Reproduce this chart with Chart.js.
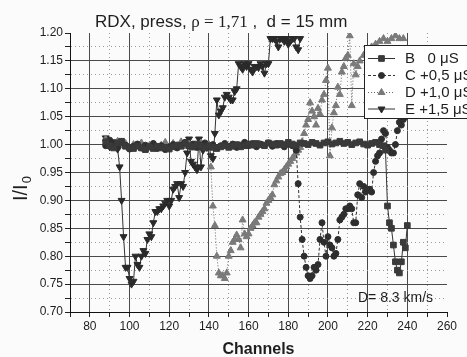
<!DOCTYPE html>
<html><head><meta charset="utf-8">
<script src="https://cdn.jsdelivr.net/npm/chart.js@4.4.0/dist/chart.umd.min.js"></script>
<style>html,body{margin:0;padding:0;background:#fbfbfb;}#wrap{width:467px;height:357px;}</style>
</head><body><div id="wrap"><canvas id="c" width="467" height="357"></canvas></div>
<script>
// ---- text ----
const titleParts = ["RDX, press, ", "\u03C1 = 1,71", " ,  d = 15 mm"];
const xTitle = "Channels";
const yTitle = "I/I";
const yTitleSub = "0";
const noteText = "D= 8.3 km/s";
const seriesNames = ["B   0 \u03BCS", "C +0,5 \u03BCS", "D +1,0 \u03BCS", "E +1,5 \u03BCS"];
const xLabelTicks = [80,100,120,140,160,180,200,220,240,260];
const yLabelTicks = [0.70,0.75,0.80,0.85,0.90,0.95,1.00,1.05,1.10,1.15,1.20];

// ---- series B (0 uS) ----
const chB = [88,90,92,94,96,98,100,102,104,106,108,110,112,114,116,118,120,122,124,126,128,130,132,134,136,138,140,142,144,146,148,150,152,154,156,158,160,162,164,166,168,170,172,174,176,178,180,182,184,186,188,190,192,194,196,198,200,202,204,206,208,210,212,214,216,218,220,222,224,226,228,229,230,231,232,233,234,235,236,237,238,239,240];
const valB = [1.005,0.998,0.994,1.003,1.006,0.997,
0.995,0.993,0.997,0.994,0.991,0.996,
0.993,0.997,0.994,0.995,0.992,0.996,
0.999,0.997,1.002,0.998,0.996,1.001,
0.997,0.994,0.998,0.995,0.993,0.996,
0.998,0.995,0.997,1.000,0.996,0.998,
1.001,0.999,1.002,1.000,0.998,1.003,
1.001,0.999,1.002,1.000,1.004,1.001,
0.999,1.003,1.002,1.000,1.004,1.002,
0.999,1.003,1.005,1.001,1.003,1.006,
1.002,1.004,1.000,1.003,1.005,1.001,
0.999,1.002,1.004,1.000,0.998,
0.99,0.89,0.86,0.85,0.82,0.79,0.775,0.77,0.79,0.825,0.815,0.855];

// ---- series C (+0,5 uS) ----
const chC = [88,90,92,94,96,98,100,102,104,106,108,110,112,114,116,118,120,122,124,126,128,130,132,134,136,138,140,142,144,146,148,150,152,154,156,158,160,162,164,166,168,170,172,174,176,178,180,182,
184,185,186,187,188,189,190,191,192,193,194,195,196,197,198,199,200,201,202,203,204,205,206,207,208,209,210,211,212,213,214,215,216,217,218,219,220,221,222,223,224,225,226,227,228,229,230,231,232,233,234,235,236,237,238,239];
const valC = [0.998,1.008,1.002,0.995,1.004,0.999,
0.992,0.997,1.001,0.994,0.999,0.996,
1.002,0.993,0.998,0.991,0.996,1.000,
0.994,0.999,1.004,0.997,1.001,0.995,
0.999,1.003,0.996,1.000,0.994,0.998,
1.002,0.997,1.001,0.995,0.999,1.004,
0.998,1.002,0.996,1.001,0.999,1.003,
0.997,1.002,1.000,0.996,1.001,0.998,
0.99,0.93,0.87,0.83,0.80,0.78,0.765,0.76,0.765,0.78,0.775,0.785,0.83,0.86,0.825,0.80,0.835,0.82,0.815,0.80,
0.805,0.83,0.865,0.87,0.875,0.885,0.885,0.89,0.885,0.86,0.86,0.91,0.93,0.905,0.925,0.915,0.92,0.92,0.915,0.95,
0.97,0.98,0.985,1.01,1.025,1.02,0.995,0.99,0.985,0.985,1.0,1.025,1.04,1.035,1.045,1.05];

// ---- series D (+1,0 uS) ----
const chD = [88,90,92,94,96,98,100,102,104,106,108,110,112,114,116,118,120,122,124,126,128,130,132,134,136,138,140,
141,142,143,144,145,146,147,148,149,150,151,152,153,154,155,156,157,158,159,160,161,162,163,164,165,166,167,168,169,170,
171,172,173,174,175,176,177,178,179,180,181,182,183,184,185,186,187,188,189,190,191,192,193,194,195,196,197,198,199,200,
201,202,203,204,205,206,207,208,209,210,211,212,213,214,215,
216,218,220,222,224,226,228,230,232,234,236,238];
const valD = [1.010,1.004,0.996,1.006,0.998,1.002,
0.994,1.000,0.997,1.003,0.992,0.998,
1.001,0.995,0.999,1.004,0.996,1.002,
0.998,1.005,0.997,1.001,0.994,0.999,
1.003,0.997,1.000,
0.96,0.89,0.855,0.80,0.77,0.765,0.765,0.76,0.77,0.80,0.81,0.825,0.83,0.838,0.83,0.815,0.865,0.84,0.835,0.84,
0.85,0.855,0.86,0.86,0.87,0.875,0.88,0.885,0.895,0.90,
0.905,0.91,0.928,0.935,0.942,0.948,0.95,0.955,0.96,0.965,0.97,0.975,0.98,0.985,0.99,0.995,1.005,1.02,1.035,1.045,
1.075,1.06,1.05,1.035,1.065,1.055,1.08,1.09,1.115,1.137,
0.98,1.03,1.057,1.07,1.103,1.09,1.13,1.14,1.155,1.16,1.195,1.07,1.145,1.125,1.14,
1.15,1.16,1.17,1.175,1.18,1.185,1.19,1.185,1.19,1.195,1.19,1.19];

// ---- series E (+1,5 uS) ----
const chE = [88,90,92,94,95,96,97,98,99,100,101,102,103,104,105,106,107,108,109,110,111,112,113,114,115,116,117,118,119,120,
121,122,123,124,125,126,127,128,129,130,131,132,133,134,135,136,137,138,139,140,141,142,143,144,145,146,147,148,149,150,
151,152,153,154,155,156,157,158,159,160,161,162,163,164,165,166,167,168,169,170,171,172,173,174,175,176,177,178,179,180,
181,182,183,184,185,186];
const valE = [1.012,0.996,1.005,0.992,
0.96,0.90,0.835,0.78,0.78,0.76,0.75,0.755,0.80,0.785,0.78,0.80,0.81,0.805,0.83,0.84,0.835,0.86,0.88,0.88,0.885,0.885,0.89,0.895,0.90,0.89,
0.90,0.92,0.925,0.93,0.905,0.93,0.925,0.95,0.985,1.01,0.97,0.965,0.96,0.955,1.01,0.96,0.99,1.00,0.995,1.00,
0.98,0.975,1.02,1.08,1.053,1.06,1.066,1.085,1.09,1.085,1.08,1.08,1.095,1.10,1.145,1.14,1.135,1.145,1.14,1.145,
1.135,1.13,1.14,1.14,1.138,1.145,1.14,1.128,1.145,1.145,1.19,1.19,1.19,1.185,1.175,1.19,1.19,1.185,1.19,1.18,
1.185,1.19,1.19,1.175,1.17,1.19];

const FONT = '"Liberation Sans", Arial, Helvetica, sans-serif';
const SERIF = '"Liberation Serif", "Times New Roman", serif';
const TXT = '#1e1e1e';

function pts(ch, v) { const n = Math.min(ch.length, v.length); const out = []; for (let i = 0; i < n; i++) out.push({x: ch[i], y: v[i]}); return out; }

const styles = [
  {pointStyle:'rect', radius:4, rot:0, color:'#3a3a3a', line:'#333', dash:[]},
  {pointStyle:'circle', radius:3, rot:0, color:'#2e2e2e', line:'#333', dash:[3,2]},
  {pointStyle:'triangle', radius:4, rot:0, color:'#7a7a7a', line:'#666', dash:[1,2]},
  {pointStyle:'triangle', radius:4, rot:180, color:'#2a2a2a', line:'#333', dash:[]}
];
const seriesData = [pts(chB, valB), pts(chC, valC), pts(chD, valD), pts(chE, valE)];

const datasets = seriesData.map((d, i) => ({
  label: seriesNames[i], data: d, showLine: true,
  borderColor: styles[i].line, borderWidth: 1, borderDash: styles[i].dash,
  pointStyle: styles[i].pointStyle, pointRadius: styles[i].radius, pointRotation: styles[i].rot,
  pointBackgroundColor: styles[i].color, pointBorderColor: styles[i].color, pointBorderWidth: 1,
  backgroundColor: styles[i].color, tension: 0
}));

function drawMarker(ctx, s, x, y) {
  ctx.save(); ctx.fillStyle = s.color; ctx.strokeStyle = s.color; ctx.lineWidth = 1; ctx.setLineDash([]);
  ctx.beginPath();
  const r = s.radius;
  if (s.pointStyle === 'rect') { const h = r * Math.SQRT1_2; ctx.rect(x - h, y - h, 2*h, 2*h); }
  else if (s.pointStyle === 'circle') { ctx.arc(x, y, r, 0, Math.PI*2); }
  else {
    const dir = s.rot === 180 ? -1 : 1;
    ctx.moveTo(x, y - dir*r); ctx.lineTo(x + r*0.866, y + dir*r*0.5); ctx.lineTo(x - r*0.866, y + dir*r*0.5); ctx.closePath();
  }
  ctx.fill(); ctx.stroke(); ctx.restore();
}

const decor = {
  id: 'decor',
  beforeDraw(chart) {
    const ctx = chart.ctx; ctx.save(); ctx.fillStyle = '#fbfbfb'; ctx.fillRect(0, 0, chart.width, chart.height); ctx.restore();
  },
  afterDraw(chart) {
    const ctx = chart.ctx, a = chart.chartArea;
    ctx.save();
    ctx.fillStyle = TXT; ctx.textAlign = 'left'; ctx.textBaseline = 'alphabetic';
    // title
    let tx = 95;
    const fonts = ['17px ' + FONT, '17px ' + SERIF, '17px ' + FONT];
    titleParts.forEach((t, i) => { ctx.font = fonts[i]; ctx.fillText(t, tx, 27); tx += ctx.measureText(t).width; });
    // x title
    ctx.font = 'bold 16px ' + FONT; ctx.textAlign = 'center';
    ctx.fillText(xTitle, (a.left + a.right) / 2, 354);
    // y title
    ctx.save(); ctx.translate(27, 201); ctx.rotate(-Math.PI/2); ctx.textAlign = 'left';
    ctx.font = '20px ' + FONT; ctx.fillText(yTitle, 0, 0);
    const w = ctx.measureText(yTitle).width;
    ctx.font = '13px ' + FONT; ctx.fillText(yTitleSub, w + 1, 4);
    ctx.restore();
    // note
    ctx.textAlign = 'left'; ctx.font = '14px ' + FONT; ctx.fillText(noteText, 358, 302);
    // legend box
    ctx.fillStyle = '#ffffff'; ctx.fillRect(364, 45, 110, 73);
    ctx.strokeStyle = '#222'; ctx.lineWidth = 1; ctx.strokeRect(364.5, 45.5, 110, 73);
    const rows = [58, 75, 92, 108.5];
    styles.forEach((s, i) => {
      const y = rows[i];
      ctx.save(); ctx.strokeStyle = s.line; ctx.lineWidth = 1; ctx.setLineDash(s.dash);
      ctx.beginPath(); ctx.moveTo(368, y + 0.5); ctx.lineTo(395, y + 0.5); ctx.stroke(); ctx.restore();
      drawMarker(ctx, s, 381.5, y + 0.5);
      ctx.fillStyle = TXT; ctx.font = '15px ' + FONT; ctx.textBaseline = 'middle';
      ctx.fillText(seriesNames[i], 405, y + 1);
    });
    ctx.restore();
  }
};

const isMajorX = v => Math.round(v) % 20 === 0;
const isMajorY = v => Math.round(v * 1000) % 50 === 0;

new Chart(document.getElementById('c'), {
  type: 'scatter',
  data: { datasets },
  options: {
    responsive: false, animation: false, devicePixelRatio: 1,
    layout: { padding: { top: 33, right: 20, bottom: 0, left: 0 } },
    plugins: { legend: { display: false }, tooltip: { enabled: false }, title: { display: false } },
    elements: { line: { tension: 0 } },
    scales: {
      x: {
        type: 'linear', min: 70, max: 260,
        afterFit: s => { s.height = 45; },
        ticks: { stepSize: 10, autoSkip: false, maxRotation: 0, minRotation: 0, padding: 2, color: TXT,
          font: { family: FONT, size: 12 },
          callback: v => xLabelTicks.includes(Math.round(v)) ? String(Math.round(v)) : '' },
        grid: { lineWidth: 1, tickLength: 5, tickColor: '#222',
          color: c => { const v = c.tick ? c.tick.value : 0; if (v <= 70 || v >= 260) return 'rgba(0,0,0,0)'; return isMajorX(v) ? '#4a4a4a' : '#9a9a9a'; } },
        border: { color: '#111', width: 1, dash: c => (c.tick && !isMajorX(c.tick.value)) ? [1, 3] : [] }
      },
      y: {
        min: 0.70, max: 1.20,
        afterFit: s => { s.width = 70; },
        ticks: { stepSize: 0.025, autoSkip: false, padding: 2, color: TXT, font: { family: FONT, size: 12 },
          callback: v => { const k = Math.round(v * 1000); return (k % 50 === 0 && yLabelTicks.some(t => Math.round(t*1000) === k)) ? (k / 1000).toFixed(2) : ''; } },
        grid: { lineWidth: 1, tickLength: 5, tickColor: '#222',
          color: c => { const v = c.tick ? c.tick.value : 0; const k = Math.round(v * 1000); if (k <= 700 || k >= 1200) return 'rgba(0,0,0,0)'; return isMajorY(v) ? '#4a4a4a' : '#9a9a9a'; } },
        border: { color: '#111', width: 1, dash: c => (c.tick && !isMajorY(c.tick.value)) ? [1, 3] : [] }
      }
    }
  },
  plugins: [decor]
});
</script>
</body></html>
